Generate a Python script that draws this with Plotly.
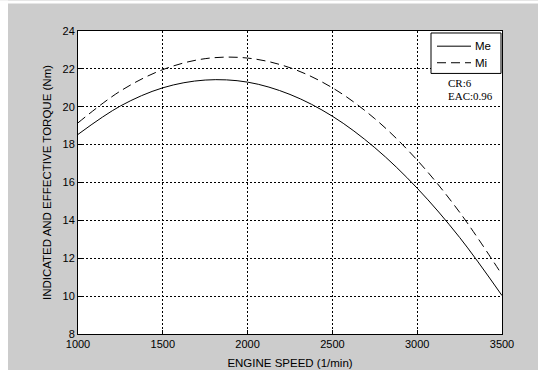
import plotly.graph_objects as go

speed = [1000, 1250, 1500, 1750, 2000, 2250, 2500, 2750, 3000, 3250, 3500]
me = [18.54, 20.04, 21.0, 21.41, 21.3, 20.65, 19.5, 17.84, 15.7, 13.1, 10.03]
mi = [19.15, 20.83, 21.96, 22.54, 22.57, 22.06, 21.0, 19.37, 17.18, 14.43, 11.13]
x_ticks = [1000, 1500, 2000, 2500, 3000, 3500]
y_ticks = [8, 10, 12, 14, 16, 18, 20, 22, 24]
series_names = ["Me", "Mi"]

W, H = 538, 370
L, R, T, B = 78, 36, 30.5, 36
pw, ph = W - L - R, H - T - B

def px(xp):
    return (xp - L) / pw

def py(yp):
    return (H - B - yp) / ph

MI_DASH = "9px,5px"
SANS = "Liberation Sans, Arial"
SERIF = "Liberation Serif, Times New Roman"

fig = go.Figure()
fig.add_trace(go.Scatter(x=speed, y=me, mode="lines", name=series_names[0], showlegend=False,
                         line=dict(color="black", width=1, shape="spline")))
fig.add_trace(go.Scatter(x=speed, y=mi, mode="lines", name=series_names[1], showlegend=False,
                         line=dict(color="black", width=1, dash=MI_DASH, shape="spline")))

axis_common = dict(
    showline=True, linecolor="black", linewidth=1, mirror=True,
    showgrid=True, gridcolor="black", gridwidth=1, griddash="2px,2px",
    ticks="inside", ticklen=4, tickcolor="black",
    zeroline=False, automargin=False,
    tickfont=dict(family=SANS, size=11, color="black"),
)

fig.update_xaxes(range=[1000, 3500], tickvals=x_ticks,
                 title=dict(text="ENGINE SPEED (1/min)", standoff=9,
                            font=dict(family=SANS, size=11.5, color="black")),
                 **axis_common)
fig.update_yaxes(range=[8, 24], tickvals=y_ticks,
                 title=dict(text="INDICATED AND EFFECTIVE TORQUE (Nm)", standoff=8,
                            font=dict(family=SANS, size=11.5, color="black")),
                 **axis_common)

# manual legend box
fig.add_shape(type="rect", xref="paper", yref="paper", x0=px(431), x1=px(501), y0=py(73), y1=py(32.5),
              fillcolor="white", line=dict(color="black", width=1), layer="above")
legend_rows = [(45.7, None), (62.3, MI_DASH)]
for name, (yy, dash) in zip(series_names, legend_rows):
    fig.add_shape(type="line", xref="paper", yref="paper", x0=px(437), x1=px(471), y0=py(yy), y1=py(yy),
                  line=dict(color="black", width=1, dash=dash if dash else "solid"), layer="above")
    fig.add_annotation(xref="paper", yref="paper", x=px(473), y=py(yy), xanchor="left", yanchor="middle",
                       text=name, showarrow=False,
                       font=dict(family=SANS, size=11.5, color="black"))

fig.add_annotation(xref="paper", yref="paper", x=px(446), y=py(82.5), xanchor="left", yanchor="middle",
                   text="CR:6", showarrow=False,
                   font=dict(family=SERIF, size=11, color="black"))
fig.add_annotation(xref="paper", yref="paper", x=px(446), y=py(95.5), xanchor="left", yanchor="middle",
                   text="EAC:0.96", showarrow=False,
                   font=dict(family=SERIF, size=11, color="black"))

# white strips around the gray figure area
fig.add_shape(type="rect", xref="paper", yref="paper", x0=px(0), x1=px(8), y0=py(H), y1=py(0),
              fillcolor="white", line=dict(width=0), layer="below")
fig.add_shape(type="rect", xref="paper", yref="paper", x0=px(0), x1=px(W), y0=py(3), y1=py(0),
              fillcolor="white", line=dict(width=0), layer="below")

fig.update_layout(
    width=W, height=H,
    margin=dict(l=L, r=R, t=T, b=B),
    paper_bgcolor="#cccccc",
    plot_bgcolor="white",
    showlegend=False,
)

fig.write_html("out.html")
